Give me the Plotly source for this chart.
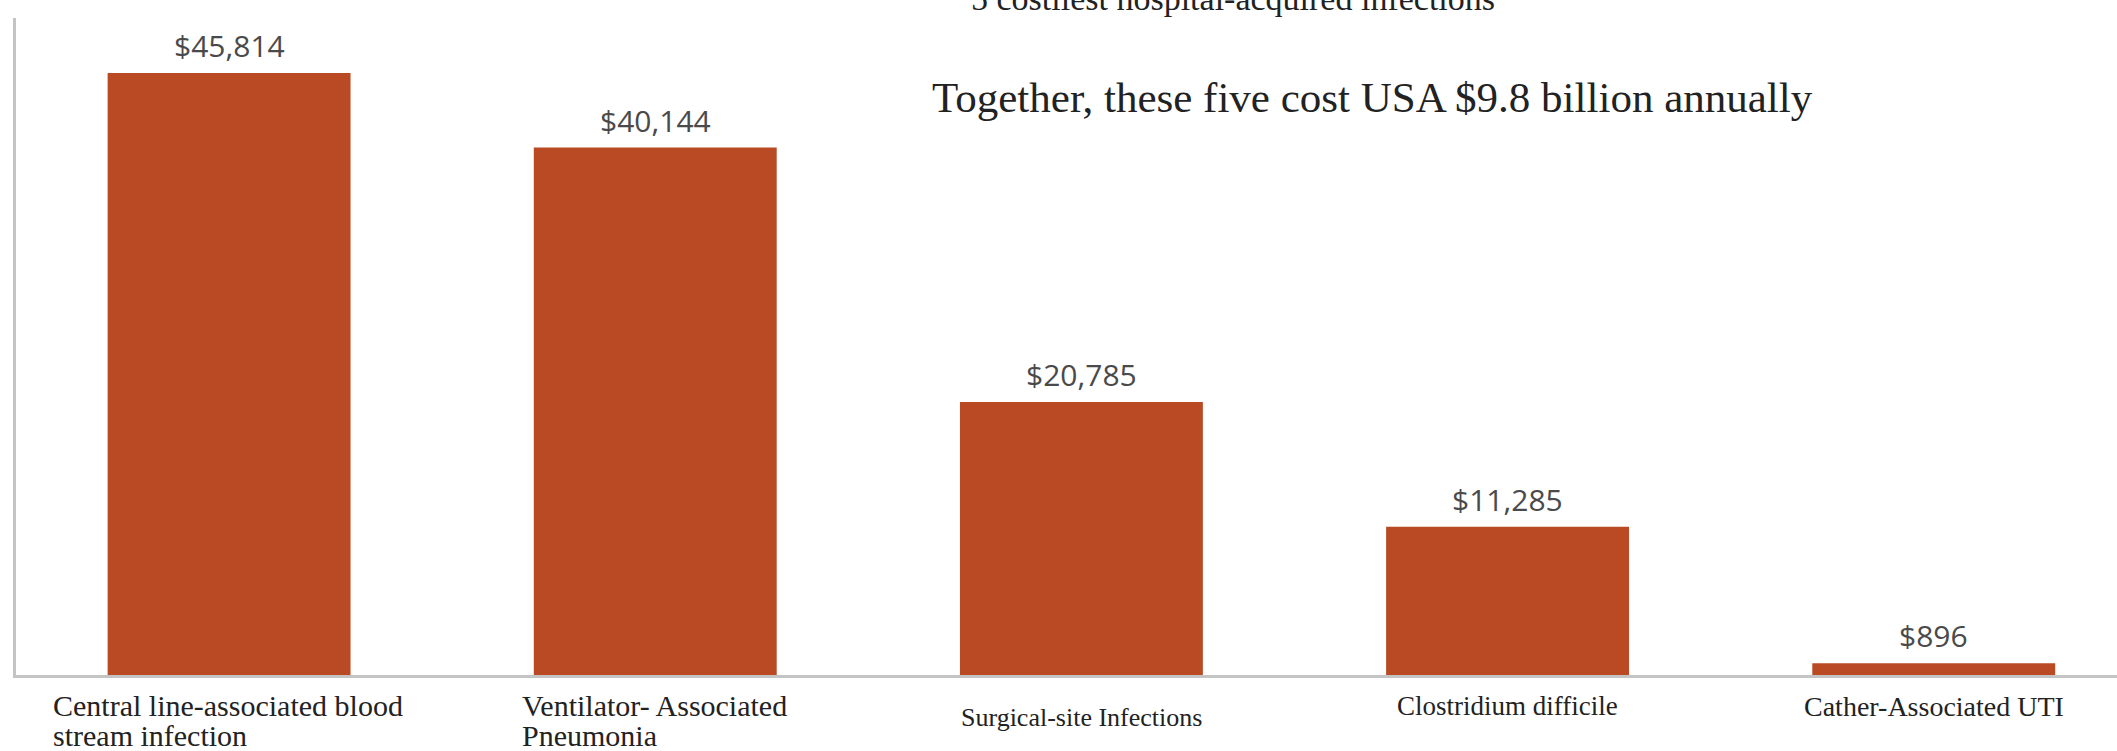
import plotly.graph_objects as go

categories = ["Central line-associated blood stream infection",
              "Ventilator- Associated Pneumonia",
              "Surgical-site Infections",
              "Clostridium difficile",
              "Cather-Associated UTI"]
tick_labels = ["Central line-associated blood<br>stream infection",
               "Ventilator- Associated<br>Pneumonia",
               "Surgical-site Infections",
               "Clostridium difficile",
               "Cather-Associated UTI"]
costs = [45814, 40144, 20785, 11285, 896]

title_line1 = "5 costliest hospital-acquired infections"
title_line2 = "Together, these five cost USA $9.8 billion annually"

# styling (not data)
BAR = "#BA4A23"
label_sizes = [30, 30, 26, 27, 28]
label_first_shift = [-30, -30, -42, -31, -31]
LINE_GAP = 30

W, H = 2117, 751
L, R, T, B = 16, 0, 18, 76
pw, ph = W - L - R, H - T - B

fig = go.Figure()
fig.add_trace(go.Bar(x=categories, y=costs, marker=dict(color=BAR, line=dict(width=0)),
                     width=0.57, hoverinfo="skip"))

for c, v in zip(categories, costs):
    fig.add_annotation(x=c, y=v, xref="x", yref="y", text="${:,}".format(v),
                       showarrow=False, yanchor="bottom", yshift=5,
                       font=dict(family="Open Sans", size=30, color="#4a4a4a"))

for i, (c, t) in enumerate(zip(categories, tick_labels)):
    lines = t.split("<br>")
    size = label_sizes[i]
    if len(lines) == 1:
        fig.add_annotation(x=c, y=0, xref="x", yref="paper", text=t, showarrow=False,
                           yanchor="middle", yshift=label_first_shift[i], xanchor="center",
                           font=dict(family="Liberation Serif", size=size, color="#222222"))
    else:
        est_w = max(len(s) for s in lines) * 0.41 * size
        for j, s in enumerate(lines):
            fig.add_annotation(x=c, y=0, xref="x", yref="paper", text=s, showarrow=False,
                               yanchor="middle", yshift=label_first_shift[i] - j * LINE_GAP,
                               xanchor="left", xshift=-est_w / 2,
                               font=dict(family="Liberation Serif", size=size, color="#222222"))

fig.add_annotation(x=(969 - L) / pw, y=(H - B + 2) / ph, xref="paper", yref="paper",
                   text=title_line1, showarrow=False, xanchor="left", yanchor="middle",
                   font=dict(family="Liberation Serif", size=34, color="#222222"))
fig.add_annotation(x=(930 - L) / pw, y=(H - B - 97) / ph, xref="paper", yref="paper",
                   text=title_line2, showarrow=False, xanchor="left", yanchor="middle",
                   font=dict(family="Liberation Serif", size=43, color="#222222"))

fig.update_layout(
    width=W, height=H,
    margin=dict(l=L, r=R, t=T, b=B),
    paper_bgcolor="white", plot_bgcolor="white",
    showlegend=False,
    xaxis=dict(range=[-0.5, 4.43], showticklabels=False, showgrid=False, zeroline=False,
               showline=True, linecolor="#C4C4C4", linewidth=3, ticks=""),
    yaxis=dict(range=[0, 50000], showticklabels=False, showgrid=False, zeroline=False,
               showline=True, linecolor="#C4C4C4", linewidth=3, ticks=""),
)

fig.write_html("out.html")
